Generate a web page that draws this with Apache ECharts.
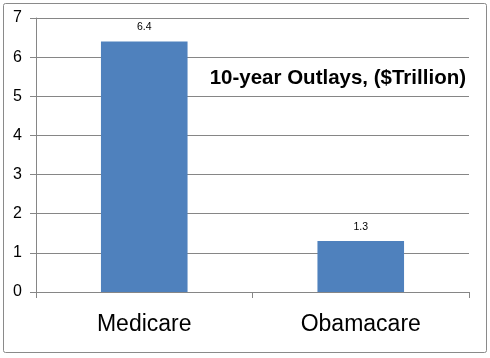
<!DOCTYPE html>
<html><head><meta charset="utf-8">
<script src="https://cdn.jsdelivr.net/npm/echarts@6/dist/echarts.min.js"></script>
<style>html,body{margin:0;padding:0;background:#fff}#c{width:490px;height:358px}</style>
</head><body><div id="c"></div>
<script>
const categories = ["Medicare", "Obamacare"];
const outlays = [6.4, 1.3];
const yTicks = [0, 1, 2, 3, 4, 5, 6, 7];
const titleText = "10-year Outlays, ($Trillion)";

const chart = echarts.init(document.getElementById('c'), null, {renderer: 'canvas'});
chart.setOption({
  animation: false,
  backgroundColor: '#fff',
  graphic: [{
    type: 'rect', left: 1, top: 1, shape: {x: 0, y: 0, width: 483, height: 349, r: 2},
    style: {fill: 'none', stroke: '#8a8a8a', lineWidth: 1}, z: -1
  }],
  title: {
    text: titleText, right: 19, top: 63,
    textStyle: {fontFamily: 'Liberation Sans, Arial, sans-serif', fontWeight: 'bold', fontSize: 20.5, color: '#000'}
  },
  grid: {left: 36, right: 21, top: 18, bottom: 66, containLabel: false},
  xAxis: {
    type: 'category', data: categories,
    axisLine: {lineStyle: {color: '#868686'}},
    axisTick: {show: true, length: 6, alignWithLabel: false, lineStyle: {color: '#868686'}},
    axisLabel: {fontFamily: 'Liberation Sans, Arial, sans-serif', fontSize: 23, color: '#000', margin: 21}
  },
  yAxis: {
    type: 'value', min: yTicks[0], max: yTicks[yTicks.length - 1], interval: 1,
    axisLine: {show: true, lineStyle: {color: '#868686'}},
    axisTick: {show: true, length: 6, lineStyle: {color: '#868686'}},
    splitLine: {show: true, lineStyle: {color: '#868686'}},
    axisLabel: {fontFamily: 'Liberation Sans, Arial, sans-serif', fontSize: 16, color: '#000', margin: 14}
  },
  series: [{
    type: 'bar', data: outlays, barWidth: '40%',
    itemStyle: {color: '#4F81BD'},
    label: {show: true, position: 'top', distance: 9, fontFamily: 'Liberation Sans, Arial, sans-serif', fontSize: 10.5, color: '#000'}
  }]
});
</script></body></html>
